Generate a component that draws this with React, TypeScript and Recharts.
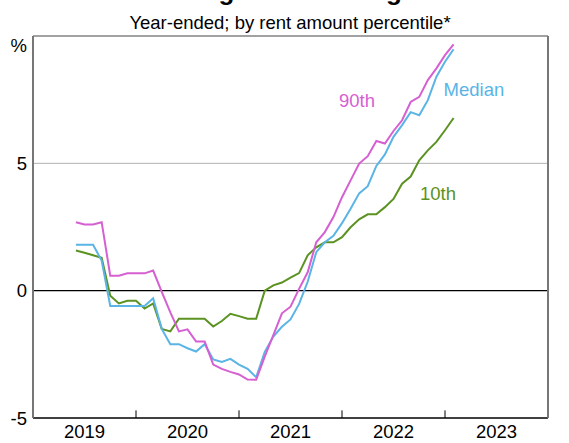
import { LineChart, Line, XAxis, YAxis, ReferenceLine } from "recharts";

const FONT = '"Liberation Sans", Arial, sans-serif';

// monthly observations, May 2019 to Jan 2023
const months = [
  "2019-05", "2019-06", "2019-07", "2019-08", "2019-09", "2019-10", "2019-11", "2019-12",
  "2020-01", "2020-02", "2020-03", "2020-04", "2020-05", "2020-06", "2020-07", "2020-08",
  "2020-09", "2020-10", "2020-11", "2020-12", "2021-01", "2021-02", "2021-03", "2021-04",
  "2021-05", "2021-06", "2021-07", "2021-08", "2021-09", "2021-10", "2021-11", "2021-12",
  "2022-01", "2022-02", "2022-03", "2022-04", "2022-05", "2022-06", "2022-07", "2022-08",
  "2022-09", "2022-10", "2022-11", "2022-12", "2023-01",
];

const p90 = [
  2.69, 2.6, 2.6, 2.69, 0.59, 0.59, 0.68, 0.68, 0.68, 0.79, -0.05, -0.85, -1.6, -1.52, -2.0,
  -2.0, -2.9, -3.07, -3.19, -3.29, -3.49, -3.5, -2.59, -1.75, -0.89, -0.63, 0.07, 0.72, 1.9,
  2.3, 2.89, 3.67, 4.33, 4.99, 5.28, 5.88, 5.78, 6.27, 6.69, 7.41, 7.61, 8.27, 8.73, 9.25, 9.67,
];

const median = [
  1.8, 1.8, 1.8, 1.18, -0.6, -0.6, -0.6, -0.6, -0.6, -0.3, -1.5, -2.1, -2.1, -2.26, -2.39,
  -2.1, -2.7, -2.8, -2.68, -2.9, -3.07, -3.4, -2.4, -1.8, -1.42, -1.13, -0.52, 0.35, 1.51,
  1.9, 2.15, 2.65, 3.22, 3.82, 4.1, 4.9, 5.35, 6.04, 6.5, 7.01, 6.89, 7.48, 8.4, 8.99, 9.48,
];

const p10 = [
  1.58, 1.49, 1.39, 1.29, -0.2, -0.5, -0.4, -0.4, -0.7, -0.5, -1.5, -1.6, -1.1, -1.1, -1.1,
  -1.1, -1.41, -1.19, -0.91, -1.0, -1.1, -1.1, 0.0, 0.21, 0.32, 0.51, 0.69, 1.39, 1.7, 1.9,
  1.9, 2.1, 2.49, 2.8, 3.0, 3.0, 3.28, 3.6, 4.2, 4.48, 5.12, 5.51, 5.84, 6.3, 6.78,
];

const yearTicks = [2020, 2021, 2022, 2023];
const yearLabelTicks = [2019.5, 2020.5, 2021.5, 2022.5, 2023.5];
const yTicks = [-5, 0, 5, 10];

// month-end position on a decimal-year axis
const data = months.map((m, i) => {
  const [y, mo] = m.split("-").map(Number);
  return { t: y + mo / 12, p90: p90[i], median: median[i], p10: p10[i] };
});

const COLORS = { p90: "#d65fd2", median: "#5ab4e5", p10: "#5b9222" };

const YearLabel = ({ x, y, payload }: any) => (
  <text x={x} y={y + 20} textAnchor="middle" fontSize={18.5} fontFamily={FONT} fill="#000">
    {Math.floor(payload.value)}
  </text>
);

const LeftTick = ({ x, y, payload }: any) => (
  <text
    x={x}
    y={y}
    dy={payload.value === 10 ? 15.5 : 6.5}
    textAnchor="end"
    fontSize={18.5}
    fontFamily={FONT}
    fill="#000"
  >
    {payload.value === 10 ? "%" : payload.value}
  </text>
);

const RightTick = ({ x, y, payload }: any) => (
  <text
    x={x}
    y={y}
    dy={payload.value === 10 ? 15.5 : 6.5}
    textAnchor="start"
    fontSize={18.5}
    fontFamily={FONT}
    fill="#000"
  >
    {payload.value === 10 ? "%" : payload.value}
  </text>
);

export default function App() {
  return (
    <div style={{ position: "absolute", left: 0, top: 0, width: 569, height: 443, background: "#fff" }}>
      <LineChart
        width={569}
        height={443}
        data={data}
        margin={{ top: 36, right: 0, bottom: 0, left: 0 }}
      >
        <XAxis
          type="number"
          dataKey="t"
          domain={[2019, 2024]}
          ticks={yearLabelTicks}
          axisLine={{ stroke: "#000", strokeWidth: 1.5 }}
          tickLine={false}
          tickSize={0}
          tickMargin={0}
          height={25}
          tick={<YearLabel />}
        />
        <YAxis
          yAxisId="left"
          type="number"
          domain={[-5, 10]}
          ticks={yTicks}
          width={33}
          tickLine={false}
          tickSize={0}
          tickMargin={6}
          axisLine={{ stroke: "#777", strokeWidth: 2 }}
          tick={<LeftTick />}
        />
        <YAxis
          yAxisId="right"
          orientation="right"
          type="number"
          domain={[-5, 10]}
          ticks={yTicks}
          width={21}
          tickLine={false}
          tickSize={0}
          tickMargin={4}
          axisLine={{ stroke: "#777", strokeWidth: 2 }}
          tick={<RightTick />}
        />
        <ReferenceLine yAxisId="left" y={10} stroke="#444" strokeWidth={1} />
        <ReferenceLine yAxisId="left" y={5} stroke="#b0b0b0" strokeWidth={1} />
        <ReferenceLine yAxisId="left" y={0} stroke="#000" strokeWidth={1.3} />
        {yearTicks.map((yr) => (
          <ReferenceLine
            key={yr}
            yAxisId="left"
            segment={[
              { x: yr, y: -5 },
              { x: yr, y: -4.7 },
            ]}
            stroke="#000"
            strokeWidth={1}
          />
        ))}
        <Line
          yAxisId="left"
          type="linear"
          dataKey="p10"
          stroke={COLORS.p10}
          strokeWidth={2}
          dot={false}
          isAnimationActive={false}
        />
        <Line
          yAxisId="left"
          type="linear"
          dataKey="median"
          stroke={COLORS.median}
          strokeWidth={2}
          dot={false}
          isAnimationActive={false}
        />
        <Line
          yAxisId="left"
          type="linear"
          dataKey="p90"
          stroke={COLORS.p90}
          strokeWidth={2}
          dot={false}
          isAnimationActive={false}
        />
      </LineChart>
      <svg
        width={569}
        height={443}
        style={{ position: "absolute", left: 0, top: 0, pointerEvents: "none" }}
      >
        <text x={289} y={0} textAnchor="middle" fontSize={26} fontWeight="bold" fontFamily={FONT} fill="#000">
          Average Rent Changes
        </text>
        <text x={290} y={29} textAnchor="middle" fontSize={18.5} fontFamily={FONT} fill="#000">
          Year-ended; by rent amount percentile*
        </text>
        <text x={339} y={106.5} fontSize={18.5} fontFamily={FONT} fill={COLORS.p90}>
          90th
        </text>
        <text x={443.6} y={96} fontSize={18.5} fontFamily={FONT} fill={COLORS.median}>
          Median
        </text>
        <text x={420} y={200} fontSize={18.5} fontFamily={FONT} fill={COLORS.p10}>
          10th
        </text>
      </svg>
    </div>
  );
}
